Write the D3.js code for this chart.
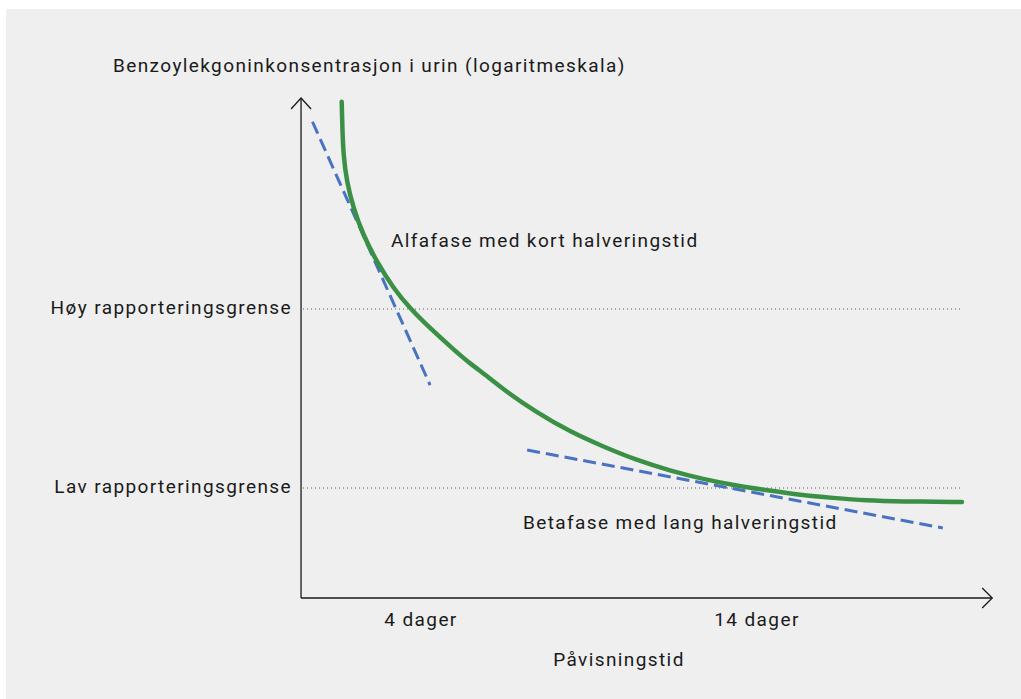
<!DOCTYPE html>
<html>
<head>
<meta charset="utf-8">
<script src="https://cdn.jsdelivr.net/npm/d3@7"></script>
<style>
  body { margin: 0; background: #fff; }
  text { font-family: Roboto, 'Liberation Sans', sans-serif; fill: #1a1a1a; font-size: 19px; letter-spacing: 1.4px; }
</style>
</head>
<body>
<script>
// schematic elimination curve, days vs concentration (log scale)
var curveDays = [1.64, 1.66, 1.69, 1.79, 1.99, 2.28, 2.68, 3.18, 3.67, 4.27, 5.06, 5.46, 6.0, 6.45, 7.44, 8.44, 9.43, 10.42, 11.41, 12.4, 13.4, 14.39, 15.27, 16.26, 17.27, 18.25, 20.1]
var curveConc = [14390, 10220, 7250, 5140, 3650, 2590, 1838, 1305, 1009, 780, 574, 496, 417, 355, 264, 206, 170, 143, 125, 112, 103, 96.6, 91.4, 88, 85.1, 84.1, 83.5]

// dashed tangents
var alphaDays = [0.77, 4.27]
var alphaConc = [11120, 376]
var betaDays = [7.16, 19.53]
var betaConc = [163, 59.8]

// reporting limits
var limitNames = ['Høy rapporteringsgrense', 'Lav rapporteringsgrense']
var limitConc = [1000, 100]

var tickDays = [4, 14]
var tickLabels = ['4 dager', '14 dager']

var width = 1021, height = 699

var svg = d3.select('body')
  .append('svg')
  .attr('width', width)
  .attr('height', height)

svg.append('rect')
  .attr('x', 6).attr('y', 9)
  .attr('width', width - 6).attr('height', height - 9)
  .attr('fill', '#efefef')

var x = d3.scaleLinear()
  .domain([0, 14])
  .range([286.6, 757])

var y = d3.scaleLog()
  .domain([100, 1000])
  .range([488, 309])

var x0 = x(0.43), x1 = x(21)
var yBottom = y(24.3), yTop = y(15100)

// dotted limit lines
svg.selectAll('.limit')
  .data(limitConc)
  .enter().append('line')
    .attr('x1', x0 + 2)
    .attr('x2', 962)
    .attr('y1', function (d) { return y(d) })
    .attr('y2', function (d) { return y(d) })
    .attr('stroke', '#555')
    .attr('stroke-width', 1)
    .attr('stroke-dasharray', '1,3')

svg.selectAll('.limitLabel')
  .data(limitConc)
  .enter().append('text')
    .attr('x', 292)
    .attr('y', function (d) { return y(d) + 4.5 })
    .attr('text-anchor', 'end')
    .text(function (d, i) { return limitNames[i] })

// axes
var axisColor = '#1a1a1a'
svg.append('line')
  .attr('x1', x0).attr('x2', x0)
  .attr('y1', yBottom).attr('y2', yTop)
  .attr('stroke', axisColor).attr('stroke-width', 1.3)
svg.append('line')
  .attr('x1', x0).attr('x2', x1)
  .attr('y1', yBottom).attr('y2', yBottom)
  .attr('stroke', axisColor).attr('stroke-width', 1.3)

// arrow heads
svg.append('path')
  .attr('d', 'M' + (x0 - 10) + ',' + (yTop + 11) + 'L' + x0 + ',' + yTop + 'L' + (x0 + 10) + ',' + (yTop + 11))
  .attr('fill', 'none').attr('stroke', axisColor).attr('stroke-width', 1.3)
svg.append('path')
  .attr('d', 'M' + (x1 - 10) + ',' + (yBottom - 10) + 'L' + x1 + ',' + yBottom + 'L' + (x1 - 10) + ',' + (yBottom + 10))
  .attr('fill', 'none').attr('stroke', axisColor).attr('stroke-width', 1.3)

// dashed tangents
var seg = d3.line()
  .x(function (d) { return x(d[0]) })
  .y(function (d) { return y(d[1]) })

svg.append('path')
  .datum(d3.zip(alphaDays, alphaConc))
  .attr('d', seg)
  .attr('fill', 'none')
  .attr('stroke', '#4a72c2')
  .attr('stroke-width', 3)
  .attr('stroke-dasharray', '13,6')

svg.append('path')
  .datum(d3.zip(betaDays, betaConc))
  .attr('d', seg)
  .attr('fill', 'none')
  .attr('stroke', '#4a72c2')
  .attr('stroke-width', 3)
  .attr('stroke-dasharray', '13,6')

// main curve
var curve = d3.line()
  .x(function (d) { return x(d[0]) })
  .y(function (d) { return y(d[1]) })
  .curve(d3.curveBasis)

svg.append('path')
  .datum(d3.zip(curveDays, curveConc))
  .attr('d', curve)
  .attr('fill', 'none')
  .attr('stroke', '#3a9146')
  .attr('stroke-width', 4.5)
  .attr('stroke-linecap', 'round')

// annotations
svg.append('text')
  .attr('x', 391).attr('y', 247)
  .text('Alfafase med kort halveringstid')

svg.append('text')
  .attr('x', 523).attr('y', 529)
  .text('Betafase med lang halveringstid')

// x ticks
svg.selectAll('.tick')
  .data(tickDays)
  .enter().append('text')
    .attr('x', function (d) { return x(d) })
    .attr('y', 626)
    .attr('text-anchor', 'middle')
    .text(function (d, i) { return tickLabels[i] })

// axis titles
svg.append('text')
  .attr('x', 619).attr('y', 666)
  .attr('text-anchor', 'middle')
  .text('Påvisningstid')

svg.append('text')
  .attr('x', 113).attr('y', 72)
  .text('Benzoylekgoninkonsentrasjon i urin (logaritmeskala)')
</script>
</body>
</html>
